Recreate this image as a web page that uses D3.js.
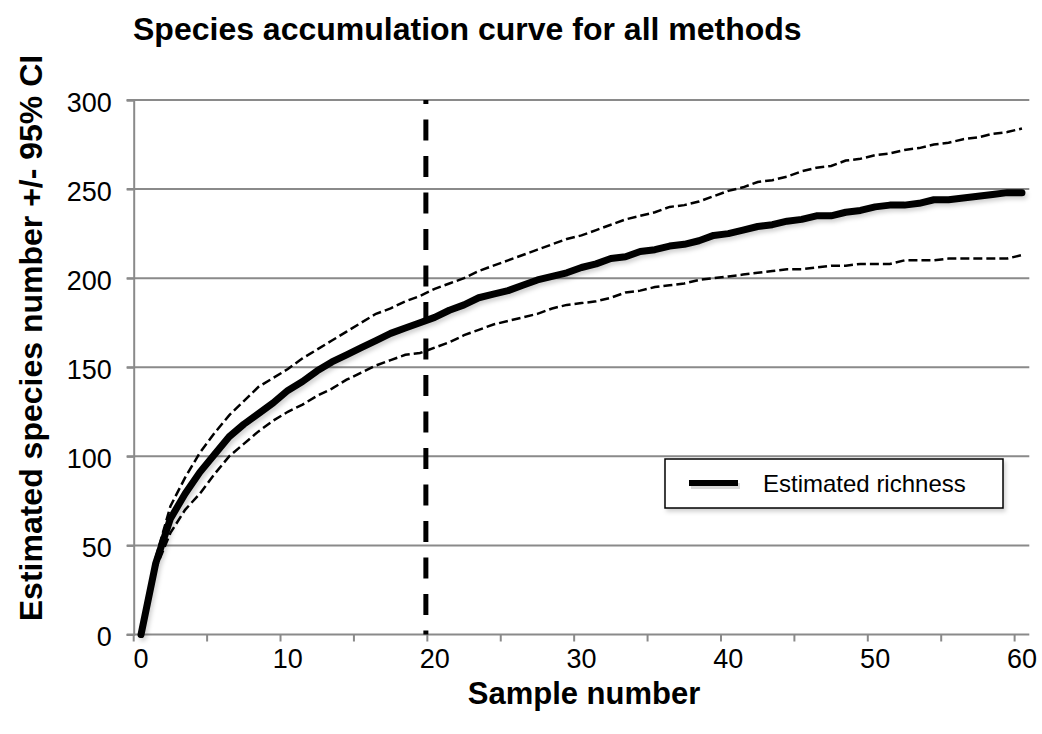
<!DOCTYPE html>
<html lang="en">
<head>
  <meta charset="UTF-8" />
  <title>Species accumulation curve</title>
  <script src="https://d3js.org/d3.v7.min.js"></script>
  <style>
    body {
      margin: 0;
      background-color: #ffffff;
      font-family: 'Liberation Sans', Arial, sans-serif;
    }
    svg { display: block; }
  </style>
</head>
<body>
  <svg width="1042" height="734"></svg>
  <script>
    // sample numbers 0..60
    const samples = d3.range(0, 61);
    const richness = [0, 40, 65, 79, 91, 101, 111, 118, 124, 130, 137, 142, 148, 153, 157, 161, 165, 169, 172, 175,
      178, 182, 185, 189, 191, 193, 196, 199, 201, 203, 206, 208, 211, 212, 215, 216, 218, 219, 221, 224,
      225, 227, 229, 230, 232, 233, 235, 235, 237, 238, 240, 241, 241, 242, 244, 244, 245, 246, 247, 248, 248];
    const upperCI = [0, 43, 72, 88, 102, 113, 123, 131, 139, 144, 149, 155, 160, 165, 170, 175, 180, 183, 187, 190,
      194, 197, 200, 204, 207, 210, 213, 216, 219, 222, 224, 227, 230, 233, 235, 237, 240, 241, 243, 246,
      249, 251, 254, 255, 257, 260, 262, 263, 266, 267, 269, 270, 272, 273, 275, 276, 278, 279, 281, 282, 284];
    const lowerCI = [0, 37, 57, 70, 79, 90, 100, 107, 114, 120, 125, 129, 134, 138, 143, 147, 151, 154, 157, 158,
      161, 164, 168, 171, 174, 176, 178, 180, 183, 185, 186, 187, 189, 192, 193, 195, 196, 197, 199, 200,
      201, 202, 203, 204, 205, 205, 206, 207, 207, 208, 208, 208, 210, 210, 210, 211, 211, 211, 211, 211, 213];
    const cutoffSample = [19.4];
    const yTicks = [0, 50, 100, 150, 200, 250, 300];
    const xLabels = [0, 10, 20, 30, 40, 50, 60];
    const xTickMarks = d3.range(-0.5, 60, 5);

    const svg = d3.select("svg");
    const plotL = 133.7, plotR = 1029.3, plotT = 100, plotB = 634.5;

    const x = d3.scaleLinear().domain([-0.5, 60.5]).range([plotL, plotR]);
    const y = d3.scaleLinear().domain([0, 300]).range([plotB, plotT]);
    const grey = "#8a8a8a";

    const defs = svg.append("defs");
    const f = defs.append("filter").attr("id", "shadow").attr("x", "-10%").attr("y", "-20%")
      .attr("width", "130%").attr("height", "160%");
    f.append("feDropShadow").attr("dx", 2).attr("dy", 3).attr("stdDeviation", 2)
      .attr("flood-color", "#000").attr("flood-opacity", 0.18);

    // gridlines
    svg.append("g").selectAll("line")
      .data(yTicks.filter(d => d > 0))
      .enter().append("line")
      .attr("x1", plotL - 7).attr("x2", plotR)
      .attr("y1", d => y(d)).attr("y2", d => y(d))
      .attr("stroke", grey).attr("stroke-width", 2);

    // y axis
    const yAxis = svg.append("g").attr("transform", `translate(${plotL},0)`)
      .call(d3.axisLeft(y).tickValues(yTicks).tickSize(7).tickPadding(15));
    yAxis.select(".domain").attr("stroke", grey).attr("stroke-width", 2);
    yAxis.selectAll(".tick line").attr("stroke", grey).attr("stroke-width", 2);
    yAxis.selectAll(".tick text").attr("font-size", 27).attr("fill", "#000")
      .attr("font-family", "'Liberation Sans', Arial, sans-serif").attr("dy", "0.42em");

    // x axis
    const xAxis = svg.append("g").attr("transform", `translate(0,${plotB})`);
    xAxis.append("line").attr("x1", plotL - 7).attr("x2", plotR)
      .attr("stroke", grey).attr("stroke-width", 2);
    xAxis.selectAll(".tm").data(xTickMarks).enter().append("line")
      .attr("x1", d => x(d)).attr("x2", d => x(d)).attr("y1", 0).attr("y2", 7)
      .attr("stroke", grey).attr("stroke-width", 2);
    xAxis.selectAll(".lb").data(xLabels).enter().append("text")
      .attr("x", d => x(d)).attr("y", 33)
      .attr("text-anchor", "middle").attr("font-size", 27).text(d => d);

    // cutoff line
    svg.append("line")
      .attr("x1", x(cutoffSample[0])).attr("x2", x(cutoffSample[0]))
      .attr("y1", y(300)).attr("y2", y(0))
      .attr("stroke", "#000").attr("stroke-width", 5)
      .attr("stroke-dasharray", "21,15.5").attr("stroke-dashoffset", 17);

    const line = d3.line().x((d, i) => x(samples[i])).y(d => y(d));

    [upperCI, lowerCI].forEach(s => {
      svg.append("path").attr("d", line(s))
        .attr("fill", "none").attr("stroke", "#000").attr("stroke-width", 2.5)
        .attr("stroke-dasharray", "9,4");
    });

    svg.append("path").attr("d", line(richness))
      .attr("fill", "none").attr("stroke", "#000").attr("stroke-width", 7)
      .attr("stroke-linejoin", "round").attr("stroke-linecap", "round")
      .attr("filter", "url(#shadow)");

    // legend
    const lg = svg.append("g");
    lg.append("rect").attr("x", 665).attr("y", 459).attr("width", 338).attr("height", 49)
      .attr("fill", "#fff").attr("stroke", "#000").attr("stroke-width", 1.5)
      .attr("filter", "url(#shadow)");
    lg.append("line").attr("x1", 691).attr("x2", 740).attr("y1", 486).attr("y2", 486)
      .attr("stroke", "#000").attr("stroke-opacity", 0.15).attr("stroke-width", 6);
    lg.append("line").attr("x1", 689).attr("x2", 738).attr("y1", 483).attr("y2", 483)
      .attr("stroke", "#000").attr("stroke-width", 6);
    lg.append("text").attr("x", 763).attr("y", 492).attr("font-size", 24).text("Estimated richness");

    // titles
    svg.append("text").attr("x", 133).attr("y", 40)
      .attr("font-size", 32).attr("font-weight", "bold")
      .text("Species accumulation curve for all methods");
    svg.append("text").attr("x", 584).attr("y", 704).attr("text-anchor", "middle")
      .attr("font-size", 31).attr("font-weight", "bold").text("Sample number");
    svg.append("text").attr("transform", "translate(42,338) rotate(-90)").attr("text-anchor", "middle")
      .attr("font-size", 32).attr("font-weight", "bold").text("Estimated species number +/- 95% CI");
  </script>
</body>
</html>
